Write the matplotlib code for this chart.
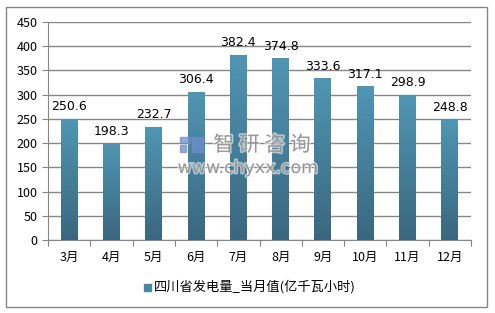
import numpy as np
import matplotlib.pyplot as plt
import matplotlib.patheffects as pe
from matplotlib.patches import Rectangle
from matplotlib.colors import LinearSegmentedColormap

plt.rcParams['font.family'] = ['Noto Sans CJK SC', 'DejaVu Sans']

months = ['3月', '4月', '5月', '6月', '7月', '8月', '9月', '10月', '11月', '12月']
values = [250.6, 198.3, 232.7, 306.4, 382.4, 374.8, 333.6, 317.1, 298.9, 248.8]
series_name = '四川省发电量_当月值(亿千瓦小时)'

fig = plt.figure(figsize=(4.95, 3.13), dpi=100)
# outer frame
fig.patches.append(Rectangle((6 / 495, 1 - 307 / 313), 481 / 495, 300 / 313,
                             transform=fig.transFigure, fill=False,
                             edgecolor='#868686', linewidth=1))

ax = fig.add_axes([48 / 495, 1 - 240 / 313, 423 / 495, 218 / 313])
x = np.arange(len(months))
width = 0.4
bars = ax.bar(x, values, width=width, color='#4a87a3', zorder=3)

# vertical gradient on each bar
cmap = LinearSegmentedColormap.from_list('g', ['#3a677f', '#5096b3'])
grad = np.linspace(0, 1, 256).reshape(-1, 1)
for b in bars:
    im = ax.imshow(grad, cmap=cmap, aspect='auto', origin='lower',
                   extent=[b.get_x(), b.get_x() + b.get_width(), 0, b.get_height()],
                   zorder=3)
    im.set_clip_path(b)

for xi, v in zip(x, values):
    ax.text(xi, v + 12, f'{v:.1f}', ha='center', va='bottom', fontsize=9,
            family='DejaVu Sans', zorder=5)

ax.set_xlim(-0.5, len(months) - 0.5)
ax.set_ylim(0, 450)
ax.set_yticks(np.arange(0, 451, 50))
ax.yaxis.grid(True, color='#868686', linewidth=1, zorder=0)
ax.set_axisbelow(True)
ax.set_xticks(np.arange(-0.5, len(months), 1))
ax.set_xticklabels([])
ax.set_xticks(x, minor=True)
ax.set_xticklabels(months, minor=True, fontsize=9)
ax.tick_params(axis='x', which='major', direction='out', length=4, color='#868686')
ax.tick_params(axis='x', which='minor', length=0, pad=8)
ax.tick_params(axis='y', length=4, direction='out', color='#868686', labelsize=9)
for s in ['top', 'right']:
    ax.spines[s].set_visible(False)
for s in ['left', 'bottom']:
    ax.spines[s].set_color('#868686')

# legend
fig.patches.append(Rectangle((144 / 495, 1 - 291 / 313), 7 / 495, 7 / 313,
                             transform=fig.transFigure, color='#4a87a3'))
fig.text(154 / 495, 1 - 287 / 313, series_name, fontsize=9.5, va='center', ha='left')

# watermark
stroke = [pe.withStroke(linewidth=2, foreground='white', alpha=0.6)]
logo_parts = [(180, 137, 10, 6), (180, 145, 6, 7), (192, 137, 11, 15)]
for lx, ly, lw, lh in logo_parts:
    fig.patches.append(Rectangle((lx / 495, 1 - (ly + lh) / 313), lw / 495, lh / 313,
                                 transform=fig.transFigure, color='#6f8fc8',
                                 alpha=0.75, zorder=10))
wm = fig.text(262 / 495, 1 - 145 / 313, '智 研 咨 询', fontsize=15, color='#8a8a8a',
              alpha=0.85, va='center', ha='center', zorder=10)
wm.set_path_effects(stroke)
wm2 = fig.text(248 / 495, 1 - 168 / 313, 'www.chyxx.com', fontsize=12.5, color='#8a8a8a',
               alpha=0.85, va='center', ha='center', family='DejaVu Sans', zorder=10)
wm2.set_path_effects(stroke)

fig.savefig('out.png', dpi=100)
